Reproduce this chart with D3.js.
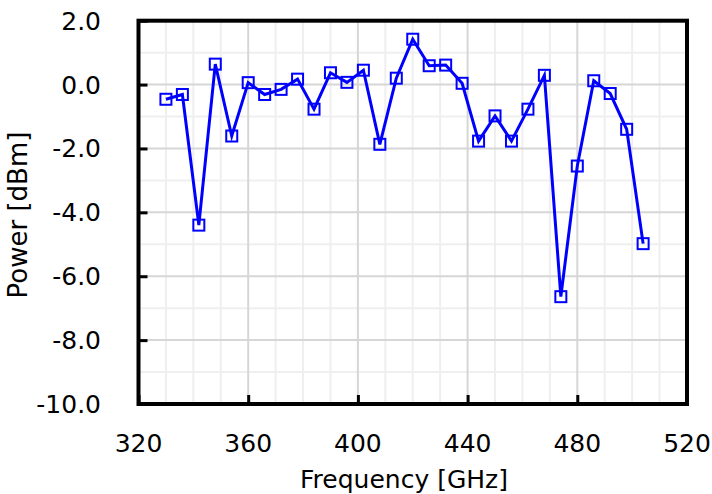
<!DOCTYPE html>
<html>
<head>
<meta charset="utf-8">
<script src="https://cdn.jsdelivr.net/npm/d3@7"></script>
<style>
  body { margin:0; background:#fff; }
  text { font-family: "DejaVu Sans", Verdana, sans-serif; }
</style>
</head>
<body>
<div class="chart"></div>
<script>
var freqs  = [330,336,342,348,354,360,366,372,378,384,390,396,402,408,414,
              420,426,432,438,444,450,456,462,468,474,480,486,492,498,504];
var powers = [-0.46,-0.31,-4.40,0.64,-1.61,0.06,-0.31,-0.15,0.17,-0.77,0.37,0.07,0.45,-1.87,0.20,
              1.42,0.59,0.61,0.04,-1.77,-0.98,-1.77,-0.77,0.29,-6.64,-2.55,0.12,-0.28,-1.40,-4.98];
var xTicks = [320,360,400,440,480,520];
var yTicks = [2,0,-2,-4,-6,-8,-10];
var xMinor = [330,340,350,370,380,390,410,420,430,450,460,470,490,500,510];
var yMinor = [1,-1,-3,-5,-7,-9];

document.addEventListener('DOMContentLoaded',function(){

  var width = 712;
  var height = 494;
  var left = 138.5, right = 687, top = 20.7, bottom = 404;

  var svg = d3.select('.chart')
              .append('svg')
              .attr('width',width)
              .attr('height',height)
              .style('background','#fff');

  // scales
  var xScale = d3.scaleLinear().domain([320,520]).range([left,right]);
  var yScale = d3.scaleLinear().domain([-10,2]).range([bottom,top]);

  // grid
  var grid = svg.append('g');
  grid.selectAll('.xminor').data(xMinor).enter().append('line')
      .attr('x1',d=>xScale(d)).attr('x2',d=>xScale(d))
      .attr('y1',top).attr('y2',bottom)
      .attr('stroke','#efefef').attr('stroke-width',2);
  grid.selectAll('.yminor').data(yMinor).enter().append('line')
      .attr('x1',left).attr('x2',right)
      .attr('y1',d=>yScale(d)).attr('y2',d=>yScale(d))
      .attr('stroke','#efefef').attr('stroke-width',2);
  grid.selectAll('.xmajor').data(xTicks.slice(1,-1)).enter().append('line')
      .attr('x1',d=>xScale(d)).attr('x2',d=>xScale(d))
      .attr('y1',top).attr('y2',bottom)
      .attr('stroke','#d6d6d6').attr('stroke-width',2);
  grid.selectAll('.ymajor').data(yTicks.slice(1,-1)).enter().append('line')
      .attr('x1',left).attr('x2',right)
      .attr('y1',d=>yScale(d)).attr('y2',d=>yScale(d))
      .attr('stroke','#d6d6d6').attr('stroke-width',2);

  // axes (ticks inward, labels as separate text)
  var xAxis = d3.axisBottom(xScale).tickValues(xTicks).tickSize(-9).tickFormat('');
  var yAxis = d3.axisLeft(yScale).tickValues(yTicks).tickSize(-9).tickFormat('');
  var gx = svg.append('g').attr('transform','translate(0,'+bottom+')').call(xAxis);
  var gy = svg.append('g').attr('transform','translate('+left+',0)').call(yAxis);
  gx.select('.domain').remove();
  gy.select('.domain').remove();
  svg.selectAll('.tick line').attr('stroke','#000').attr('stroke-width',3);

  // frame
  svg.append('rect')
     .attr('x',left).attr('y',top)
     .attr('width',right-left).attr('height',bottom-top)
     .attr('fill','none').attr('stroke','#000').attr('stroke-width',4);

  // tick labels
  svg.selectAll('.xlab').data(xTicks).enter().append('text')
     .attr('x',d=>xScale(d)).attr('y',452)
     .attr('text-anchor','middle').attr('font-size',25)
     .text(d=>d);
  svg.selectAll('.ylab').data(yTicks).enter().append('text')
     .attr('x',101).attr('y',d=>yScale(d)+9)
     .attr('text-anchor','end').attr('font-size',25)
     .text(d=>d.toFixed(1));

  // axis titles
  svg.append('text')
     .attr('x',404).attr('y',488)
     .attr('text-anchor','middle').attr('font-size',25)
     .text('Frequency [GHz]');
  svg.append('text')
     .attr('transform','translate(27,215) rotate(-90)')
     .attr('text-anchor','middle').attr('font-size',26)
     .text('Power [dBm]');

  // series
  var line = d3.line().x((d,i)=>xScale(freqs[i])).y(d=>yScale(d));
  svg.append('path')
     .datum(powers)
     .attr('d',line)
     .attr('fill','none').attr('stroke','#0000ff').attr('stroke-width',3);

  svg.selectAll('.mark').data(powers).enter().append('rect')
     .attr('x',(d,i)=>xScale(freqs[i])-5.5)
     .attr('y',d=>yScale(d)-5.5)
     .attr('width',11).attr('height',11)
     .attr('fill','none').attr('stroke','#0000ff').attr('stroke-width',2);

});
</script>
</body>
</html>
